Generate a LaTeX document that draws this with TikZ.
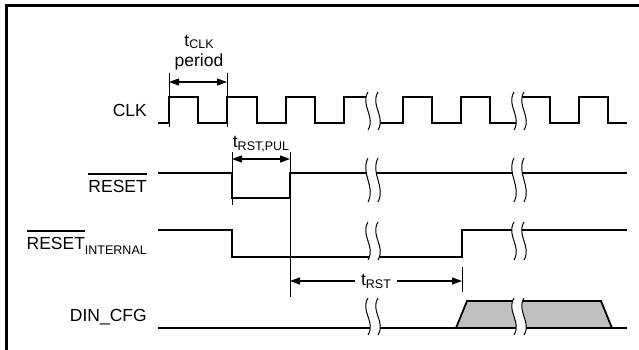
\documentclass[tikz,border=0pt]{standalone}
\usepackage{fontspec}
\setmainfont{Liberation Sans}
\usetikzlibrary{arrows.meta}
\newcommand{\sigfont}{\fontsize{17.5}{20}\selectfont}
\newcommand{\lsub}[2][3pt]{\raisebox{-#1}{\fontsize{12.5}{14}\selectfont #2}}
\newlength{\ovlwd}
\newcommand{\ovl}[1]{\settowidth{\ovlwd}{#1}\rlap{\rule[1.0em]{\ovlwd}{1.4pt}}#1}
% time break: white gap between two wavy lines
\newcommand{\breakmark}[3]{%
  \fill[white] (#1,#2) .. controls ({#1-8},{#2+0.36*(#3-#2)}) and ({#1+8},{#2+0.64*(#3-#2)}) .. (#1,#3)
     -- ({#1+10},#3) .. controls ({#1+18},{#2+0.64*(#3-#2)}) and ({#1+2},{#2+0.36*(#3-#2)}) .. ({#1+10},#2) -- cycle;
  \draw[wave] (#1,#2) .. controls ({#1-8},{#2+0.36*(#3-#2)}) and ({#1+8},{#2+0.64*(#3-#2)}) .. (#1,#3);
  \draw[wave] ({#1+10},#2) .. controls ({#1+2},{#2+0.36*(#3-#2)}) and ({#1+18},{#2+0.64*(#3-#2)}) .. ({#1+10},#3);
}
\tikzset{
    %Define standard arrow tip
    >={Triangle[length=10pt,width=7pt]},
    %Define style for signal traces
    sig/.style={
           line width=1.8pt,
           line join=miter},
    wave/.style={
           line width=1pt},
    tick/.style={
           line width=0.7pt},
    % Define arrow style
    dim/.style={
           <->,
           line width=1.2pt},
    lbl/.style={
           font=\sigfont,
           inner sep=0pt}
}
\begin{document}
\begin{tikzpicture}[x=1pt,y=-1pt]
\useasboundingbox (0,0) rectangle (639,349);
\clip (0,0) rectangle (639,349);

 %frame
\draw[line width=3pt] (6.5,360) -- (6.5,5.5) -- (650,5.5);

 %labels
\node[lbl, anchor=base east](clklbl) at (147,116){CLK};
\node[lbl, anchor=base east](rstlbl) at (147,192){\ovl{RESET}};
\node[lbl, anchor=base east](rstilbl) at (147,249){\ovl{RESET}\lsub[5pt]{INTERNAL}};
\node[lbl, anchor=base east](dinlbl) at (147,321){DIN\_CFG};

 %signals
\draw[sig] (158,123) -- (169,123) -- (169,97) -- (198,97) -- (198,123) -- (227,123) -- (227,97)
   -- (257,97) -- (257,123) -- (286,123) -- (286,97) -- (315,97) -- (315,123) -- (344,123)
   -- (344,97) -- (373,97) -- (373,123) -- (403,123) -- (403,97) -- (432,97) -- (432,123)
   -- (461,123) -- (461,97) -- (490,97) -- (490,123) -- (520,123) -- (520,97) -- (550,97)
   -- (550,123) -- (579,123) -- (579,97) -- (608,97) -- (608,123) -- (627,123);
\draw[sig] (158,173) -- (232,173) -- (232,198) -- (290,198) -- (290,173) -- (627,173);
\draw[sig] (158,230) -- (232,230) -- (232,257) -- (462,257) -- (462,230) -- (627,230);
\draw[sig, fill=black!25] (456,328) -- (467,301) -- (601,301) -- (612,328) -- cycle;
\draw[sig] (158,328) -- (627,328);

 %breaks
\foreach \bx in {368,514}
  \foreach \ya/\yb in {92/130,158/202,222/260,298/335}
    {\breakmark{\bx}{\ya}{\yb}}

 %timing marks
\draw[tick] (169,73) -- (169,127);
\draw[tick] (227,73) -- (227,127);
\draw[tick] (232,152) -- (232,205);
\draw[tick] (290,152) -- (290,297);
\draw[tick] (462,267) -- (462,292);

\coordinate (clkA) at (169,82);
\coordinate (clkB) at (227,82);
\coordinate (pulA) at (232,159);
\coordinate (pulB) at (290,159);
\coordinate (rstA) at (290,281);
\coordinate (rstB) at (462,281);

\node[lbl, anchor=base](tclk) at (199,46){t\lsub[2pt]{CLK}};
\node[lbl, anchor=base](tclkp) at (199,66){period};
\node[lbl, anchor=base](tpul) at (261,147){t\lsub{RST,PUL}};

\draw[dim] (clkA) -- (clkB);
\draw[dim] (pulA) -- (pulB);
\draw[dim] (rstA) -- node[lbl, fill=white, inner sep=6pt](trst){t\lsub{RST}} (rstB);

\end{tikzpicture}
\end{document}
